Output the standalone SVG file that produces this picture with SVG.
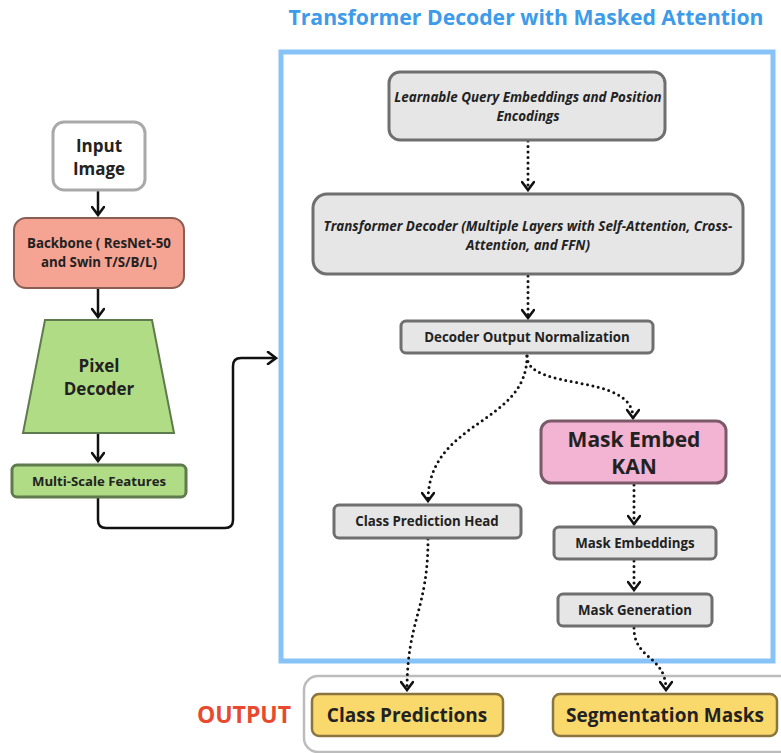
<svg xmlns="http://www.w3.org/2000/svg" width="781" height="753" viewBox="0 0 781 753">
<defs>
<marker id="chev" viewBox="0 0 12 14" markerWidth="12" markerHeight="14" refX="10" refY="7" orient="auto" markerUnits="userSpaceOnUse">
<path d="M2,1 L10,7 L2,13" fill="none" stroke="#111" stroke-width="2.6" stroke-linecap="round" stroke-linejoin="miter"/>
</marker>
</defs>
<style>
text{font-family:"Open Sans","Noto Sans","Liberation Sans",sans-serif;font-weight:bold;fill:#222;text-anchor:middle}
.gray{fill:#e6e6e6;stroke:#6f6f6f;stroke-width:3}
.it{font-style:italic;font-size:13.4px}
.sm{font-size:13.3px}
.solid{fill:none;stroke:#111;stroke-width:2.5}
.dot{fill:none;stroke:#111;stroke-width:3;stroke-dasharray:0 5.5;stroke-linecap:round}
</style>
<rect width="781" height="753" fill="#fff"/>
<text x="526" y="25" style="font-size:21.2px;fill:#3d9be9">Transformer Decoder with Masked Attention</text>
<rect x="281" y="52" width="492" height="609" fill="none" stroke="#87c3f6" stroke-width="5"/>
<rect x="304" y="676" width="495" height="76" rx="14" fill="none" stroke="#bcbcbc" stroke-width="2.5"/>
<text x="244" y="723" style="font-size:23px;fill:#e84a2f">OUTPUT</text>

<g id="connectors">
<path class="solid" d="M98,191 V215" marker-end="url(#chev)"/>
<path class="solid" d="M98,288 V317" marker-end="url(#chev)"/>
<path class="solid" d="M98,433 V461" marker-end="url(#chev)"/>
<path class="solid" d="M98,497 V520 Q98,528 106,528 H225 Q233,528 233,520 V366 Q233,358 241,358 H276" marker-end="url(#chev)"/>
<path class="dot" d="M528,141 V190" marker-end="url(#chev)"/>
<path class="dot" d="M528,276 V318" marker-end="url(#chev)"/>
<path class="dot" d="M527,356 C527,425 428,420 428,501" marker-end="url(#chev)"/>
<path class="dot" d="M527,356 C527,392 633,372 633,418" marker-end="url(#chev)"/>
<path class="dot" d="M634,485 V524" marker-end="url(#chev)"/>
<path class="dot" d="M634,561 V590" marker-end="url(#chev)"/>
<path class="dot" d="M428,539 C428,610 407,620 407,690" marker-end="url(#chev)"/>
<path class="dot" d="M634,628 C634,660 666,655 666,690" marker-end="url(#chev)"/>
</g>

<g id="input">
<rect x="53" y="122" width="92" height="68" rx="11" fill="#fff" stroke="#a9a9a9" stroke-width="3"/>
<text x="99" y="152" style="font-size:17px">Input</text>
<text x="99" y="175" style="font-size:17px">Image</text>
</g>
<g id="backbone">
<rect x="14" y="218" width="170" height="70" rx="12" fill="#f5a393" stroke="#8a5e55" stroke-width="2"/>
<text x="99" y="248" class="sm">Backbone ( ResNet-50</text>
<text x="99" y="267" class="sm">and Swin T/S/B/L)</text>
</g>
<g id="pixel">
<polygon points="45,320 152,320 174,433 23,433" fill="#b0dc85" stroke="#5f7a4c" stroke-width="2"/>
<text x="99" y="372" style="font-size:17px">Pixel</text>
<text x="99" y="395" style="font-size:17px">Decoder</text>
</g>
<g id="msf">
<rect x="12" y="465" width="174" height="32" rx="5" fill="#b0dc85" stroke="#5f7a4c" stroke-width="3"/>
<text x="99" y="486" style="font-size:13.2px">Multi-Scale Features</text>
</g>
<g id="learnable">
<rect x="389" y="72" width="276" height="68" rx="11" class="gray"/>
<text x="528" y="102" class="it">Learnable Query Embeddings and Position</text>
<text x="528" y="121" class="it">Encodings</text>
</g>
<g id="tdecoder">
<rect x="313" y="194" width="430" height="80" rx="14" class="gray"/>
<text x="528" y="231" class="it">Transformer Decoder (Multiple Layers with Self-Attention, Cross-</text>
<text x="528" y="250" class="it">Attention, and FFN)</text>
</g>
<g id="norm">
<rect x="401" y="321" width="252" height="32" rx="5" class="gray"/>
<text x="527" y="342" class="sm">Decoder Output Normalization</text>
</g>
<g id="kan">
<rect x="541" y="421" width="185" height="62" rx="10" fill="#f3b3d3" stroke="#7a5a68" stroke-width="3"/>
<text x="634" y="447" style="font-size:21px">Mask Embed</text>
<text x="634" y="474" style="font-size:21px">KAN</text>
</g>
<g id="classhead">
<rect x="334" y="505" width="187" height="33" rx="5" class="gray"/>
<text x="427" y="526" style="font-size:13.3px">Class Prediction Head</text>
</g>
<g id="maskemb">
<rect x="554" y="527" width="162" height="32" rx="5" class="gray"/>
<text x="635" y="548" style="font-size:13.3px">Mask Embeddings</text>
</g>
<g id="maskgen">
<rect x="558" y="594" width="154" height="32" rx="5" class="gray"/>
<text x="635" y="615" style="font-size:13.3px">Mask Generation</text>
</g>
<g id="classpred">
<rect x="312" y="694" width="191" height="42" rx="7" fill="#fad96c" stroke="#8a7540" stroke-width="2.5"/>
<text x="407" y="722" style="font-size:19px">Class Predictions</text>
</g>
<g id="segmasks">
<rect x="553" y="694" width="224" height="42" rx="7" fill="#fad96c" stroke="#8a7540" stroke-width="2.5"/>
<text x="665" y="722" style="font-size:19px">Segmentation Masks</text>
</g>
</svg>
